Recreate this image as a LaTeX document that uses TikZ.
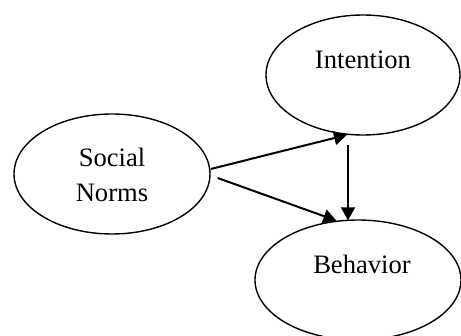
\documentclass[tikz,border=0pt]{standalone}
\usepackage{fontspec}
\setmainfont{Liberation Serif}
\usetikzlibrary{shapes.geometric,arrows.meta,calc}
\begin{document}
\begin{tikzpicture}[x=0.5pt,y=-0.5pt,
  oval/.style={draw,ellipse,line width=0.7pt,inner sep=0pt},
  lbl/.style={anchor=base,inner sep=0pt,font=\fontsize{13.3}{17.5}\selectfont},
  arr/.style={line width=1pt,-{Triangle[length=6.5pt,width=7pt]}}]
\useasboundingbox (0,0) rectangle (461,336);
\clip (0,0) rectangle (461,336);
\fill[white] (0,0) rectangle (461,336);
\node[oval,minimum width=98pt,minimum height=60pt] (sn) at (112,174) {};
\node[oval,minimum width=97pt,minimum height=60pt] (int) at (363,75) {};
\node[oval,minimum width=103pt,minimum height=60pt] (beh) at (358,280) {};
\node[lbl,align=center] (snT) at (112,202) {Social\\Norms};
\node[lbl] (intT) at (363,69) {Intention};
\node[lbl] (behT) at (362,274) {Behavior};
\coordinate (a1) at ($(sn.east)+(0,-5)$);
\coordinate (a2) at ($(sn.east)+(7,4)$);
\coordinate (a3) at ($(int.south)+(-15,9)$);
\draw[arr] (a1) -- (int.255);
\draw[arr] (a2) -- (beh.110);
\draw[arr] (a3) -- ($(beh.north)+(-10,1)$);
\end{tikzpicture}
\end{document}
